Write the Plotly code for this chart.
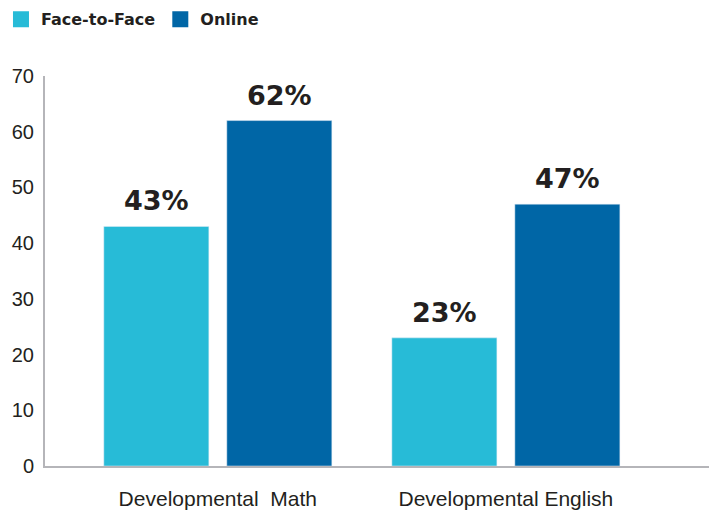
import plotly.graph_objects as go

# Data
categories = ["Developmental\u00a0 Math", "Developmental English"]
face_to_face = [43, 23]
online = [62, 47]
series_names = ["Face-to-Face", "Online"]
series_colors = ["#27BBD7", "#0066A6"]
y_ticks = [0, 10, 20, 30, 40, 50, 60, 70]

TEXT_COLOR = "#231F20"
AXIS_COLOR = "#B5B5B9"

fig = go.Figure()

for name, values, color in zip(series_names, [face_to_face, online], series_colors):
    fig.add_trace(go.Bar(
        name=name,
        x=categories,
        y=values,
        marker_color=color,
        showlegend=False,
        hoverinfo="skip"
    ))
    # legend-only swatch so the squares can be larger than the bar default
    fig.add_trace(go.Scatter(
        name=name,
        x=[None],
        y=[None],
        mode="markers",
        marker=dict(symbol="square", size=20, color=color),
        showlegend=True
    ))

# Value labels above each bar
for i, cat in enumerate(categories):
    for values, shift in [(face_to_face, -61.5), (online, 61.5)]:
        fig.add_annotation(
            x=cat,
            y=values[i],
            text=f"{values[i]}%",
            showarrow=False,
            xshift=shift,
            yanchor="bottom",
            yshift=8,
            font=dict(family="DejaVu Sans", size=27, color=TEXT_COLOR, weight="bold")
        )

# page body has an 8px margin, so the figure is drawn 8px smaller
fig.update_layout(
    width=709,
    height=504,
    margin=dict(l=37, r=0, t=68, b=46, autoexpand=False),
    paper_bgcolor="white",
    plot_bgcolor="white",
    barmode="group",
    bargap=0.146,
    bargroupgap=0.146,
    font=dict(family="Liberation Sans, Arial, sans-serif", color=TEXT_COLOR),
    legend=dict(
        orientation="h",
        xref="paper",
        yref="paper",
        x=-0.0655,
        y=1.189,
        xanchor="left",
        yanchor="top",
        font=dict(family="DejaVu Sans", size=16, color=TEXT_COLOR, weight="bold"),
        itemwidth=30,
        bgcolor="rgba(0,0,0,0)"
    ),
    xaxis=dict(
        range=[-0.6, 1.733],
        showline=True,
        linecolor=AXIS_COLOR,
        linewidth=2,
        showgrid=False,
        ticks="",
        ticklen=0,
        automargin=False,
        tickfont=dict(size=21, color=TEXT_COLOR),
        ticklabelstandoff=13
    ),
    yaxis=dict(
        range=[0, 70],
        tickvals=y_ticks,
        showline=True,
        linecolor=AXIS_COLOR,
        linewidth=2,
        showgrid=False,
        zeroline=False,
        ticks="",
        ticklen=0,
        automargin=False,
        tickfont=dict(size=20, color=TEXT_COLOR),
        ticklabelstandoff=5
    )
)

fig.write_html("out.html")
